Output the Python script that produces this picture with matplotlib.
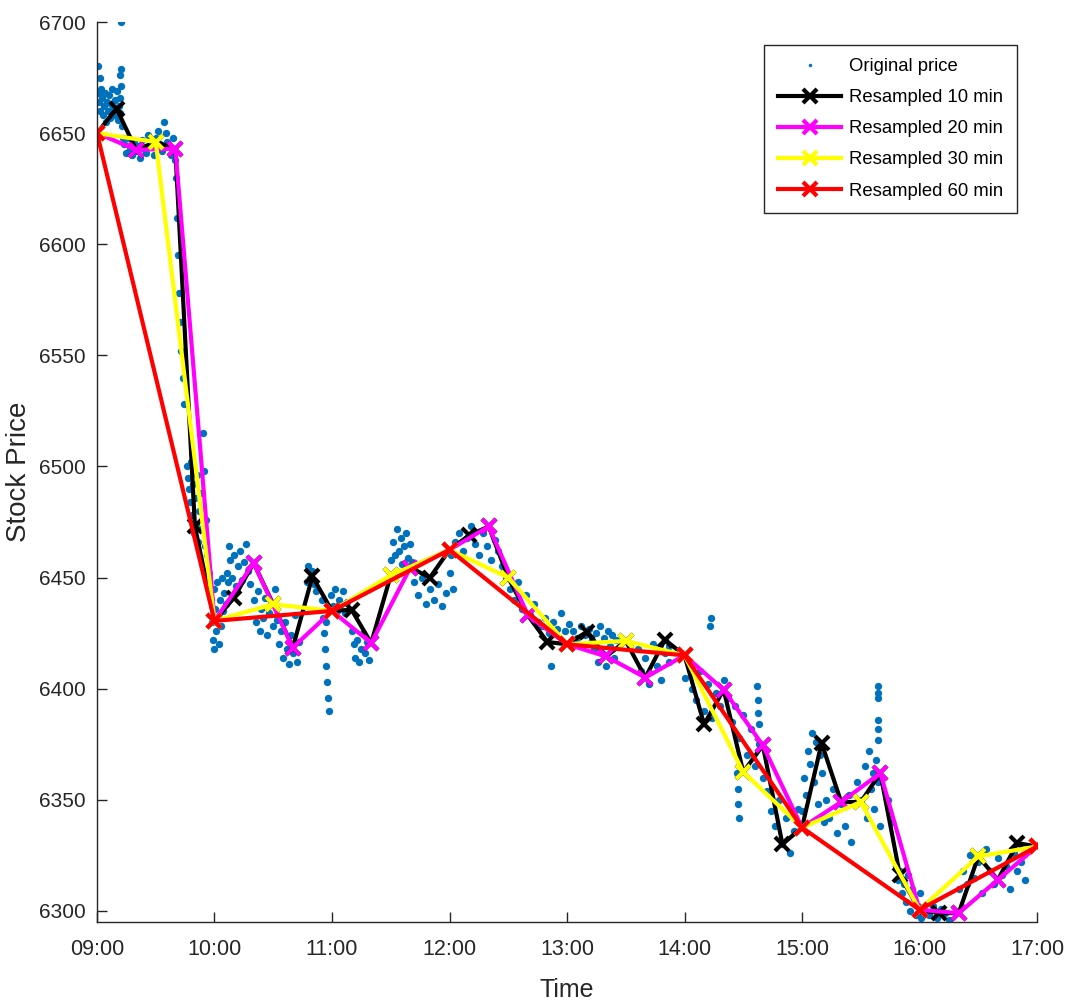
import matplotlib
matplotlib.use("Agg")
import matplotlib.pyplot as plt

# time axis: minutes after 09:00
x_ticks = [0, 60, 120, 180, 240, 300, 360, 420, 480]
x_ticklabels = ["09:00", "10:00", "11:00", "12:00", "13:00",
                "14:00", "15:00", "16:00", "17:00"]
y_ticks = [6300, 6350, 6400, 6450, 6500, 6550, 6600, 6650, 6700]

# original ticks (minute, price)
orig_min = [
    0.5, 1.5, 12.3, 12.3, 12.0,
    0.5, 1, 1.5, 2, 2.5, 3, 3.5, 4, 4.5, 5, 5.5, 6, 6.5, 7, 7.5, 8, 8.5, 9,
    9.5, 10, 10.5, 11, 11.5, 12, 12.5, 13, 13.5,
    14, 15, 16, 17, 18, 19, 20, 21, 22, 23, 24, 25, 26, 27, 28, 29, 30, 31,
    32, 33, 34, 35, 36, 37, 38, 39, 40,
    40.5, 41, 41.5, 42, 42.5, 43, 44, 44.5,
    46, 46.5, 47, 47.5, 48, 48.5, 49, 49.5, 50, 50.5, 51, 51.5, 52, 52.5, 53,
    54, 54.5, 55, 55.5, 56, 57, 58,
    58.5, 59, 59.5, 60, 60.5, 61, 61.5, 62, 62.5, 63, 63.5, 64, 64.5, 65, 66,
    66.5, 67, 67.5, 68, 69, 70, 71, 72, 73, 74, 75, 76, 77, 78,
    80, 81, 82, 83, 84, 85, 86, 87, 88, 89, 90, 91, 92,
    93, 94, 95, 96, 97, 98, 99, 100, 101, 102, 103,
    107, 108, 109, 110, 111, 112,
    115, 115.5, 116, 116.5, 117, 117.5, 118, 118.5, 117, 118,
    119.5, 120.5, 121.5, 122.5, 123.5, 124.5, 125.5, 126.5, 127.5,
    130, 131, 132, 133, 134, 135, 136, 137, 138, 139,
    150, 151, 152, 153, 154, 155, 156, 157, 158, 159, 160, 161,
    162, 164, 166, 168, 170, 172, 174, 176, 178,
    180, 181, 182,
    183, 185, 187, 189, 191, 193, 195, 197, 199, 201, 203, 205, 207,
    209, 211, 213, 215, 217, 219, 221, 223, 225,
    227, 229, 231, 233, 235, 237, 239, 241, 232,
    243, 245, 247, 249, 251, 253, 255, 257, 259, 261, 263, 265,
    254, 256, 258, 260, 262, 264,
    276, 278, 280, 282, 284, 286, 288, 290, 292,
    290, 292, 313, 313.3,
    300, 302, 304, 306, 308, 310, 312, 314, 316, 318, 320,
    322, 324, 326, 328, 330, 332, 334, 336, 338, 340,
    337, 337.3, 337.6, 337.9,
    327, 327.2, 327.4, 327.6,
    342, 344, 346, 348, 350, 352, 354, 356, 358,
    360, 361, 362, 363, 364, 365, 366, 367, 368, 369, 370, 371,
    372, 374, 376, 378, 380, 382, 384, 385,
    388, 390, 392, 393, 394, 395, 396, 397, 398, 399, 400,
    399, 399, 399, 399, 399, 399,
    404, 406, 408, 409, 410, 411, 412, 413, 414, 415, 416, 417, 418, 419,
    420, 421,
    423, 425, 427, 429, 431, 433, 435,
    440, 442, 444, 446, 448, 450, 452, 454, 456, 458, 460, 462, 464, 466,
    468, 470, 472, 474,
]
orig_price = [
    6680, 6675, 6700, 6679, 6676,
    6668, 6664, 6660, 6670, 6666, 6658, 6662, 6668, 6655, 6664, 6660, 6667,
    6657, 6663, 6670, 6661, 6658, 6665, 6660, 6669, 6656, 6662, 6666, 6659,
    6671, 6653, 6648,
    6645, 6641, 6648, 6643, 6640, 6646, 6642, 6644, 6639, 6647, 6643, 6641,
    6649, 6644, 6646, 6640, 6648, 6651, 6645, 6642, 6655, 6650, 6646, 6644,
    6640, 6648, 6638,
    6630, 6612, 6595, 6578, 6565, 6552, 6540, 6528,
    6500, 6495, 6490, 6484, 6502, 6478, 6492, 6470, 6486, 6474, 6496, 6466,
    6480, 6488, 6472, 6515, 6498, 6464, 6476, 6460, 6452, 6440,
    6430, 6422, 6445, 6418, 6436, 6426, 6448, 6432, 6420, 6440, 6428, 6450,
    6435, 6443, 6438,
    6452, 6448, 6464, 6458, 6450, 6460, 6446, 6455, 6462, 6449, 6457, 6465,
    6453, 6447,
    6440, 6430, 6444, 6426, 6436, 6432, 6441, 6424, 6434, 6438, 6428, 6445,
    6431,
    6420, 6426, 6414, 6430, 6418, 6411, 6424, 6416, 6433, 6412, 6421,
    6448, 6455, 6450, 6453, 6447, 6444,
    6440, 6432, 6425, 6418, 6410, 6403, 6396, 6390, 6430, 6436,
    6442, 6437, 6445, 6435, 6440, 6438, 6444, 6434, 6439,
    6426, 6420, 6414, 6422, 6412, 6418, 6425, 6416, 6421, 6413,
    6458, 6466, 6460, 6472, 6462, 6468, 6456, 6464, 6470, 6459, 6465, 6457,
    6448, 6442, 6450, 6438, 6445, 6440, 6447, 6437, 6443,
    6452, 6460, 6445,
    6466, 6470, 6462, 6468, 6473, 6465, 6460, 6470, 6464, 6458, 6467, 6462,
    6455,
    6450, 6445, 6440, 6448, 6436, 6442, 6433, 6438, 6430,
    6428, 6432, 6425, 6430, 6427, 6434, 6426, 6429, 6410,
    6426, 6423, 6428, 6424, 6427, 6422, 6425, 6428, 6423, 6426, 6424, 6422,
    6418, 6412, 6416, 6410, 6419, 6414,
    6418, 6408, 6414, 6402, 6420, 6410, 6404, 6416, 6412,
    6422, 6419, 6428, 6432,
    6405, 6412, 6400, 6395, 6408, 6390, 6402, 6387, 6398, 6392, 6404,
    6396, 6385, 6392, 6378, 6388, 6370, 6382, 6365, 6375, 6360,
    6401, 6395, 6389, 6384,
    6362, 6355, 6348, 6342,
    6354, 6345, 6338, 6350, 6330, 6342, 6326, 6336, 6346,
    6345, 6360, 6352, 6372, 6366, 6380, 6358, 6376, 6348, 6370, 6362, 6340,
    6350, 6342, 6355, 6335, 6348, 6338, 6352, 6331,
    6358, 6350, 6365, 6342, 6372, 6355, 6362, 6346, 6368, 6358, 6338,
    6401, 6398, 6396, 6386, 6382, 6377,
    6350, 6340, 6320, 6314, 6318, 6308, 6312, 6304, 6316, 6300, 6310, 6306,
    6298, 6302, 6308, 6297,
    6300, 6298, 6302, 6297, 6301, 6299, 6296,
    6310, 6318, 6312, 6325, 6315, 6322, 6308, 6328, 6318, 6312, 6324, 6316,
    6320, 6310, 6326, 6318, 6322, 6314,
]

# resampled series
min_10 = list(range(0, 481, 10))
price_10 = [6650, 6661, 6642.5, 6646, 6643, 6473,
            6430.5, 6441, 6456.5, 6438, 6418.5, 6450.5,
            6435, 6435.5, 6420.5, 6451, 6454.5, 6450,
            6462.5, 6469, 6473, 6450, 6433, 6421,
            6420, 6425.5, 6414.5, 6421.5, 6405, 6422,
            6415, 6384, 6399.5, 6362.5, 6374.5, 6330,
            6337.5, 6375.5, 6349, 6349, 6362, 6316,
            6300.5, 6299, 6299, 6324.5, 6314, 6330.5,
            6329]
min_20 = list(range(0, 481, 20))
price_20 = [6650, 6642.5, 6643, 6430.5, 6456.5, 6418.5, 6435, 6420.5,
            6454.5, 6462.5, 6473, 6433, 6420, 6414.5, 6405, 6415,
            6399.5, 6374.5, 6337.5, 6349, 6362, 6300.5, 6299, 6314, 6329]
min_30 = list(range(0, 481, 30))
price_30 = [6650, 6646, 6430.5, 6438, 6435, 6451, 6462.5, 6450, 6420,
            6421.5, 6415, 6362.5, 6337.5, 6349, 6300.5, 6324.5, 6329]
min_60 = list(range(0, 481, 60))
price_60 = [6650, 6430.5, 6435, 6462.5, 6420, 6415, 6337.5, 6300.5, 6329]

font = ["Liberation Sans", "DejaVu Sans"]
axis_col = "#262626"

fig = plt.figure(figsize=(10.67, 10.01), dpi=100)
ax = fig.add_axes([0.0909, 0.0789, 0.881, 0.8991])

ax.plot(orig_min, orig_price, "o", color="#0072BD", ms=5.3, mew=0,
        label="Original price")
ax.plot(min_10, price_10, "-x", color="black", lw=3, ms=10, mew=3,
        label="Resampled 10 min")
ax.plot(min_20, price_20, "-x", color="#FF00FF", lw=3, ms=10, mew=3,
        label="Resampled 20 min")
ax.plot(min_30, price_30, "-x", color="#FFFF00", lw=3, ms=10, mew=3,
        label="Resampled 30 min")
ax.plot(min_60, price_60, "-x", color="#FF0000", lw=3, ms=10, mew=3,
        label="Resampled 60 min")

ax.set_xlim(0, 480)
ax.set_ylim(6295, 6700)
ax.set_xticks(x_ticks)
ax.set_xticklabels(x_ticklabels, family=font, fontsize=15.5)
ax.set_yticks(y_ticks)
ax.set_yticklabels([str(v) for v in y_ticks], family=font, fontsize=15)
ax.tick_params(direction="in", length=7, width=1, colors=axis_col)
ax.tick_params(axis="x", pad=12)
ax.tick_params(axis="y", pad=8)
for side in ["top", "right"]:
    ax.spines[side].set_visible(False)
for side in ["left", "bottom"]:
    ax.spines[side].set_color(axis_col)
    ax.spines[side].set_linewidth(1)

ax.set_xlabel("Time", family=font, fontsize=18, color=axis_col, labelpad=13)
ax.set_ylabel("Stock Price", family=font, fontsize=20, color=axis_col,
              labelpad=5)

leg = ax.legend(loc="upper right", bbox_to_anchor=(0.979, 0.975),
                borderaxespad=0, prop={"family": font, "size": 13.3},
                handlelength=3.4, handletextpad=0.45, labelspacing=0.76,
                borderpad=0.75, fancybox=False, edgecolor=axis_col,
                framealpha=1, markerscale=1)
leg.get_frame().set_linewidth(1)
leg.legend_handles[0].set_markersize(2.5)

fig.savefig("out.png", dpi=100)
